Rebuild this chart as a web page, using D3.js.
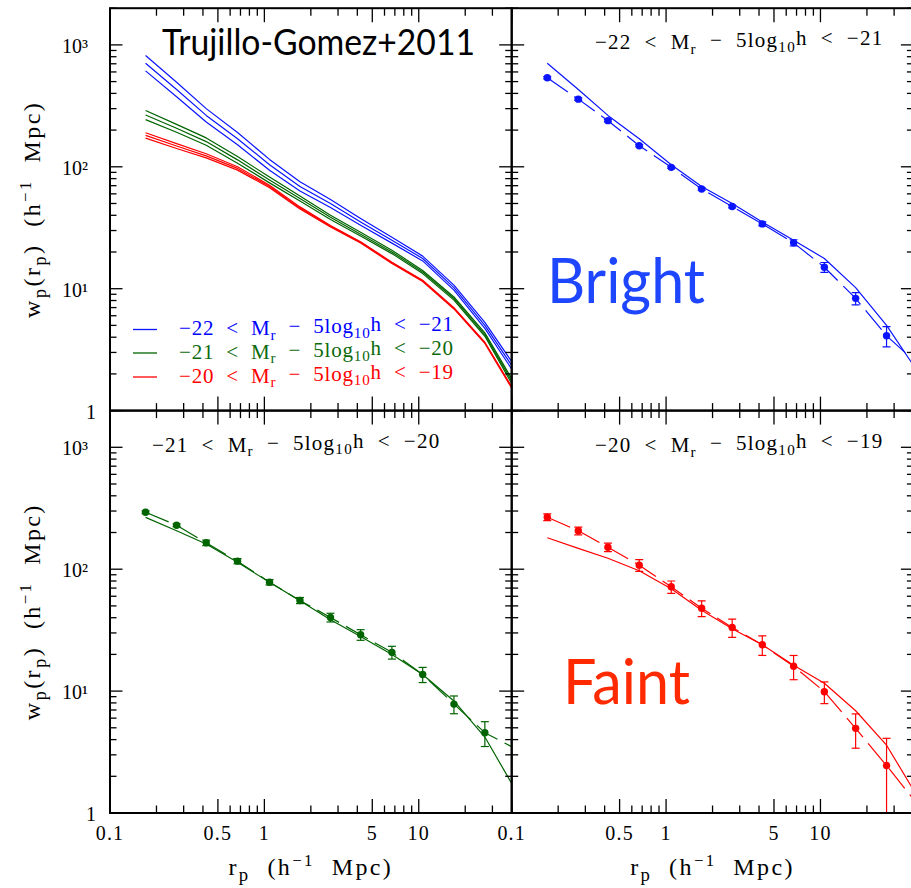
<!DOCTYPE html>
<html>
<head>
<meta charset="utf-8">
<script src="https://cdn.jsdelivr.net/npm/d3@7"></script>
<style>
  html, body { margin: 0; padding: 0; background: #fff; overflow: hidden; }
  svg { display: block; }
  .serif { font-family: "Liberation Serif", "Times New Roman", serif; }
  .sans { font-family: Lato, "Open Sans", sans-serif; }
</style>
</head>
<body>
<svg id="chart" width="911" height="888"></svg>
<script>
// ---- projected separations (h^-1 Mpc) ----
const rp      = [0.17, 0.27, 0.42, 0.67, 1.08, 1.7, 2.68, 4.2, 6.7, 10.6, 16.9, 26.8];
const rpCurve = [0.17, 0.27, 0.42, 0.67, 1.08, 1.7, 2.68, 4.2, 6.7, 10.6, 16.9, 26.8, 40];

// ---- measured w_p(r_p) with 1-sigma errors ----
const brightWp  = [538, 359, 239, 149, 99, 65.8, 47.2, 34.0, 23.8, 15.0, 8.33, 4.11];
const brightErr = [12, 8, 5, 3, 2, 1.4, 1.2, 1.3, 1.4, 1.4, 0.97, 0.78];
const midWp     = [293, 229.5, 164.6, 116.4, 78.2, 55.4, 40.2, 29.0, 20.8, 13.7, 7.82, 4.56];
const midErr    = [8, 6, 8.5, 5.6, 4, 3.2, 3.3, 2.9, 2.5, 1.95, 1.3, 1.05];
const faintWp   = [267, 206.5, 151.5, 107.9, 71.7, 47.9, 33.3, 24.0, 16.0, 9.89, 4.95, 2.45];
const faintErr  = [17, 15, 12, 12, 8.3, 7.1, 5.7, 4.4, 3.6, 2.0, 1.55, 1.65];

// ---- HOD fits (dashed), sampled on rpCurve ----
const brightFit = [538, 359, 239, 149, 99, 65.8, 47.2, 34.0, 23.8, 15.0, 8.33, 4.11, 2.6];
const midFit    = [293, 229.5, 164.6, 116.4, 78.2, 55.4, 40.2, 29.0, 20.8, 13.7, 7.82, 4.56, 3.5];
const faintFit  = [267, 206.5, 151.5, 107.9, 71.7, 47.9, 33.3, 24.0, 16.0, 9.89, 4.95, 2.45, 1.3];

// ---- model predictions: central value and upper / lower envelope, sampled on rpCurve ----
const brightModelHi = [818, 494, 300, 191, 115, 75.3, 54, 37.7, 26.4, 18.5, 10.7, 5.3, 2.52];
const brightModel   = [708, 430, 264, 170, 104, 69, 50, 35.3, 25, 17.7, 10.2, 5.0, 2.35];
const brightModelLo = [612, 375, 233, 151.5, 93.8, 63.2, 46.3, 33.1, 23.65, 16.9, 9.74, 4.72, 2.19];
const midModelHi    = [290, 223, 172.6, 121.3, 82.4, 57.6, 40.0, 29.0, 20.7, 14.1, 8.55, 4.34, 1.83];
const midModel      = [266, 207, 161, 114, 78, 55, 38.5, 28, 20, 13.7, 8.3, 4.2, 1.75];
const midModelLo    = [244, 192, 150.2, 107.1, 73.8, 52.5, 37.0, 27.1, 19.4, 13.3, 8.06, 4.07, 1.67];
const faintModelHi  = [190.4, 155, 128, 100.2, 70.6, 46.9, 33.0, 24.3, 16.5, 11.75, 6.98, 3.64, 1.57];
const faintModel    = [181, 148, 123, 97, 69, 46, 32.5, 24, 16.3, 11.6, 6.9, 3.6, 1.55];
const faintModelLo  = [172, 141.4, 118.3, 93.9, 67.4, 45.1, 32.1, 23.7, 16.1, 11.45, 6.82, 3.56, 1.53];

// ---- labels ----
const magBins      = [["\u221222", "\u221221"], ["\u221221", "\u221220"], ["\u221220", "\u221219"]];
const xTickValues  = [0.1, 0.5, 1, 5, 10];
const xTickLabels  = ["0.1", "0.5", "1", "5", "10"];
const yTickValues  = [1, 10, 100, 1000];
const yTickLabels  = ["1", "10\u00B9", "10\u00B2", "10\u00B3"];
const titleText    = "Trujillo-Gomez+2011";

const xDomain = [0.1, 40];
const yDomain = [1, 2000];

// ---- styling ----
const colBlue = "#0a14ff", colGreen = "#006400", colRed = "#ff0000";

const svg = d3.select("#chart");
const defs = svg.append("defs");

const PW = 401.7, PH = 402.4;
const panels = [
  { id: "tl", x0: 110,   y0: 8.2 },
  { id: "tr", x0: 511.7, y0: 8.2 },
  { id: "bl", x0: 110,   y0: 410.6 },
  { id: "br", x0: 511.7, y0: 410.6 }
];

panels.forEach(p => {
  p.x = d3.scaleLog().domain(xDomain).range([p.x0, p.x0 + PW]);
  p.y = d3.scaleLog().domain(yDomain).range([p.y0 + PH, p.y0]);
  defs.append("clipPath").attr("id", "clip-" + p.id)
    .append("rect").attr("x", p.x0).attr("y", p.y0).attr("width", PW).attr("height", PH);
  p.g = svg.append("g").attr("clip-path", `url(#clip-${p.id})`);
});
const P = Object.fromEntries(panels.map(p => [p.id, p]));

function curve(p, xs, ys, color, opts = {}) {
  const line = d3.line().x(d => p.x(d[0])).y(d => p.y(d[1]));
  p.g.append("path")
    .attr("d", line(xs.map((v, i) => [v, ys[i]])))
    .attr("fill", "none")
    .attr("stroke", color)
    .attr("stroke-width", opts.width || 1.25)
    .attr("stroke-dasharray", opts.dash || null)
    .attr("stroke-linejoin", "round");
}

function points(p, xs, ys, es, color) {
  const g = p.g.append("g");
  xs.forEach((v, i) => {
    const cx = p.x(v);
    const lo = ys[i] - es[i], hi = ys[i] + es[i];
    const yLo = lo > 0 ? p.y(lo) : p.y0 + PH + 20;
    const yHi = p.y(hi);
    g.append("line").attr("x1", cx).attr("x2", cx).attr("y1", yLo).attr("y2", yHi)
      .attr("stroke", color).attr("stroke-width", 1.2);
    [yLo, yHi].forEach(yy => g.append("line")
      .attr("x1", cx - 4).attr("x2", cx + 4).attr("y1", yy).attr("y2", yy)
      .attr("stroke", color).attr("stroke-width", 1.2));
    g.append("circle").attr("cx", cx).attr("cy", p.y(ys[i])).attr("r", 3.7).attr("fill", color);
  });
}

// ---- top-left: model envelopes for the three luminosity bins ----
[[brightModelHi, brightModel, brightModelLo, colBlue],
 [midModelHi, midModel, midModelLo, colGreen],
 [faintModelHi, faintModel, faintModelLo, colRed]].forEach(([hi, mid, lo, c]) => {
  [hi, mid, lo].forEach(arr => curve(P.tl, rpCurve, arr, c, { width: 1.2 }));
});

// ---- data panels ----
[[P.tr, brightWp, brightErr, brightFit, brightModel, colBlue],
 [P.bl, midWp, midErr, midFit, midModel, colGreen],
 [P.br, faintWp, faintErr, faintFit, faintModel, colRed]].forEach(([p, wp, err, fit, model, c]) => {
  curve(p, rpCurve, model, c, { width: 1.2 });
  curve(p, rpCurve, fit, c, { width: 1.2, dash: "25,8" });
  points(p, rp, wp, err, c);
});

// ---- frames and ticks ----
const near = (a, b) => Math.abs(Math.log10(a / b)) < 1e-6;
const isMajorX = v => xTickValues.some(t => near(t, v));
const isDecade = v => Math.abs(Math.log10(v) - Math.round(Math.log10(v))) < 1e-6;

panels.forEach(p => {
  const g = svg.append("g").attr("stroke", "#000").attr("stroke-width", 1.3);
  const yb = p.y0 + PH, yt = p.y0, xl = p.x0, xr = p.x0 + PW;
  p.x.ticks().forEach(v => {
    const xx = p.x(v), L = isMajorX(v) ? 14 : 7.5;
    g.append("line").attr("x1", xx).attr("x2", xx).attr("y1", yb).attr("y2", yb - L);
    g.append("line").attr("x1", xx).attr("x2", xx).attr("y1", yt).attr("y2", yt + L);
  });
  p.y.ticks().forEach(v => {
    const yy = p.y(v), L = isDecade(v) ? 12.5 : 6.5;
    g.append("line").attr("x1", xl).attr("x2", xl + L).attr("y1", yy).attr("y2", yy);
    g.append("line").attr("x1", xr).attr("x2", xr - L).attr("y1", yy).attr("y2", yy);
  });
  svg.append("rect").attr("x", xl).attr("y", yt).attr("width", PW).attr("height", PH)
    .attr("fill", "none").attr("stroke", "#000").attr("stroke-width", 2);
});

// ---- tick labels ----
[P.bl, P.br].forEach(p => {
  xTickValues.forEach((v, i) => {
    svg.append("text").attr("class", "serif")
      .attr("x", p.x(v)).attr("y", p.y0 + PH + 26.5)
      .attr("text-anchor", "middle").attr("font-size", 20)
      .attr("letter-spacing", 1.2)
      .text(xTickLabels[i]);
  });
});
[P.tl, P.bl].forEach(p => {
  yTickValues.forEach((v, i) => {
    const lab = yTickLabels[i];
    svg.append("text").attr("class", "serif")
      .attr("x", lab.length > 1 ? 88 : 96).attr("y", p.y(v) + 8)
      .attr("text-anchor", "end").attr("font-size", 20)
      .text(lab);
  });
});

// ---- axis titles ----
function rpTitle(sel) {
  sel.append("tspan").text("r");
  sel.append("tspan").attr("font-size", "0.78em").attr("dy", "0.32em").text("p");
  sel.append("tspan").attr("dy", "-0.25em").text("\u00A0\u00A0(h");
  sel.append("tspan").attr("font-size", "0.7em").attr("dy", "-0.55em").text("\u22121");
  sel.append("tspan").attr("dy", "0.38em").text("\u00A0\u00A0Mpc)");
}
[P.bl, P.br].forEach(p => {
  const t = svg.append("text").attr("class", "serif")
    .attr("x", p.x0 + PW / 2).attr("y", 875)
    .attr("text-anchor", "middle").attr("font-size", 24).attr("letter-spacing", 2.4);
  rpTitle(t);
});
[P.tl, P.bl].forEach(p => {
  const cy = p.y0 + PH / 2;
  const t = svg.append("text").attr("class", "serif")
    .attr("transform", `translate(40,${cy}) rotate(-90)`)
    .attr("text-anchor", "middle").attr("font-size", 24).attr("letter-spacing", 2.4);
  t.append("tspan").text("w");
  t.append("tspan").attr("font-size", "0.78em").attr("dy", "0.32em").text("p");
  t.append("tspan").attr("dy", "-0.25em").text("(r");
  t.append("tspan").attr("font-size", "0.78em").attr("dy", "0.32em").text("p");
  t.append("tspan").attr("dy", "-0.25em").text(")\u00A0\u00A0(h");
  t.append("tspan").attr("font-size", "0.7em").attr("dy", "-0.55em").text("\u22121");
  t.append("tspan").attr("dy", "0.38em").text("\u00A0\u00A0Mpc)");
});

// ---- magnitude-bin labels ----
function magLabel(x, y, bin, color, size, spacing) {
  const t = svg.append("text").attr("class", "serif")
    .attr("x", x).attr("y", y).attr("font-size", size)
    .attr("letter-spacing", spacing).attr("fill", color)
    .style("white-space", "pre");
  t.append("tspan").text(`${bin[0]}\u00A0\u00A0<\u00A0\u00A0M`);
  t.append("tspan").attr("font-size", "0.72em").attr("dy", "0.3em").text("r");
  t.append("tspan").attr("dy", "-0.3em").text("\u00A0\u00A0\u2212\u00A0\u00A05log");
  t.append("tspan").attr("font-size", "0.72em").attr("dy", "0.3em").text("10");
  t.append("tspan").attr("dy", "-0.3em").text(`h\u00A0\u00A0<\u00A0\u00A0${bin[1]}`);
  return t;
}
magLabel(595, 49, magBins[0], "#000", 21, 1.25);
magLabel(152, 451.5, magBins[1], "#000", 21, 1.25);
magLabel(595, 452, magBins[2], "#000", 21, 1.25);

// ---- legend (top-left) ----
[[colBlue, magBins[0], 329.5, "#0000ff"],
 [colGreen, magBins[1], 353, "#0c6a0c"],
 [colRed, magBins[2], 377, "#ff0000"]].forEach(([c, bin, yy, tc]) => {
  svg.append("line").attr("x1", 133).attr("x2", 157).attr("y1", yy).attr("y2", yy)
    .attr("stroke", c).attr("stroke-width", 1.3);
  magLabel(179, yy + 5.5, bin, tc, 21, 0.8);
});

// ---- headline and sample names ----
svg.append("text").attr("class", "sans")
  .attr("x", 162).attr("y", 55).attr("font-size", 36)
  .attr("textLength", 313).attr("lengthAdjust", "spacingAndGlyphs")
  .attr("fill", "#000").text(titleText);
svg.append("text").attr("class", "sans")
  .attr("x", 547).attr("y", 303).attr("font-size", 62)
  .attr("textLength", 158).attr("lengthAdjust", "spacingAndGlyphs")
  .attr("fill", "#1e46ff").text("Bright");
svg.append("text").attr("class", "sans")
  .attr("x", 563).attr("y", 704).attr("font-size", 61)
  .attr("textLength", 127).attr("lengthAdjust", "spacingAndGlyphs")
  .attr("fill", "#ff2a00").text("Faint");
</script>
</body>
</html>
